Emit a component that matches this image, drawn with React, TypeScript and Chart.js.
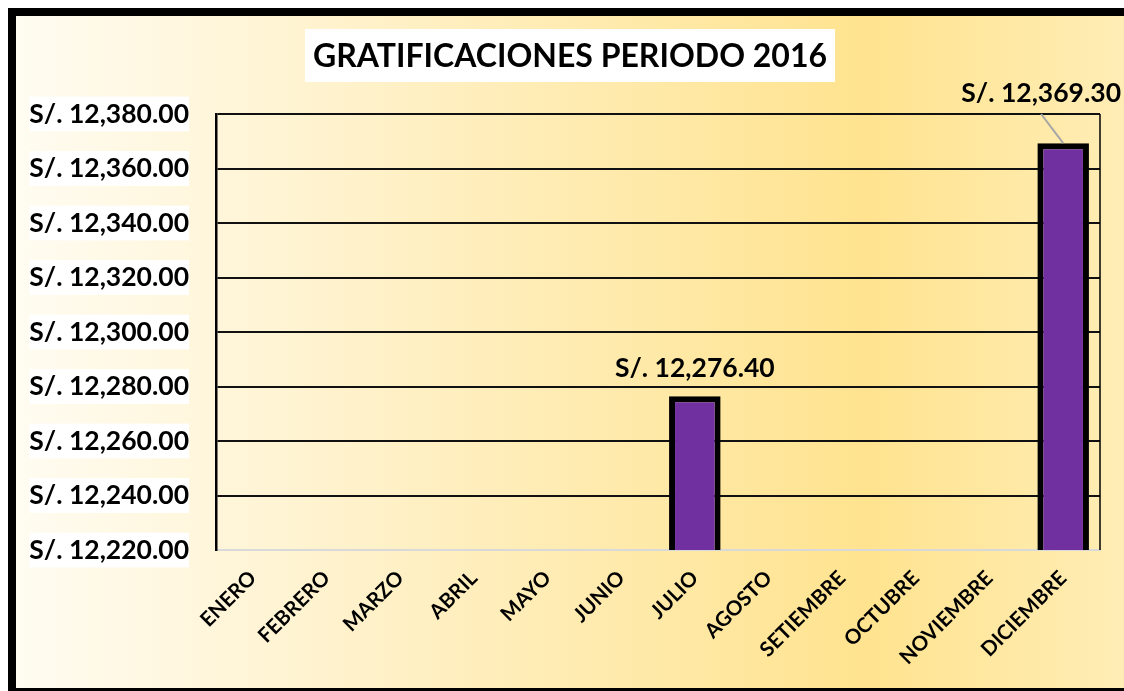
import React, { useEffect, useRef } from "react";
import { Chart, registerables } from "chart.js";

Chart.register(...registerables);

const months = [
  "ENERO", "FEBRERO", "MARZO", "ABRIL", "MAYO", "JUNIO",
  "JULIO", "AGOSTO", "SETIEMBRE", "OCTUBRE", "NOVIEMBRE", "DICIEMBRE",
];
const gratificaciones: (number | null)[] = [
  null, null, null, null, null, null, 12276.4, null, null, null, null, 12369.3,
];
const yMin = 12220;
const yMax = 12380;
const yStep = 20;
const chartTitle = "GRATIFICACIONES PERIODO 2016";

const FONT = "Lato, 'Open Sans', sans-serif";

const fmt = (v: number) =>
  "S/. " + v.toLocaleString("en-US", { minimumFractionDigits: 2, maximumFractionDigits: 2 });

const makeGradient = (ctx: CanvasRenderingContext2D, width: number) => {
  const g = ctx.createLinearGradient(0, 0, width, 0);
  g.addColorStop(0, "#FFFCF2");
  g.addColorStop(0.3, "#FFF2CC");
  g.addColorStop(0.77, "#FFE38F");
  g.addColorStop(1, "#FFEDB5");
  return g;
};

const decorPlugin = {
  id: "decor",
  beforeDraw(chart: any) {
    const { ctx, width, height } = chart;
    ctx.save();
    ctx.fillStyle = makeGradient(ctx, width);
    ctx.fillRect(0, 0, width, height);
    ctx.fillStyle = "#000";
    ctx.fillRect(0, 0, 8, height);
    ctx.fillRect(0, 0, width, 8);
    ctx.fillRect(0, height - 3, width, 3);

    // title box
    ctx.font = `bold 32px ${FONT}`;
    const tw = ctx.measureText(chartTitle).width;
    const cx = width / 2 + 4;
    const bw = tw + 16;
    ctx.fillStyle = "#fff";
    ctx.fillRect(cx - bw / 2, 21, bw, 53);
    ctx.fillStyle = "#000";
    ctx.textAlign = "center";
    ctx.textBaseline = "middle";
    ctx.fillText(chartTitle, cx, 49);
    ctx.restore();
  },
  afterDatasetsDraw(chart: any) {
    const { ctx, chartArea, width, height } = chart;
    ctx.save();
    ctx.fillStyle = makeGradient(ctx, width);
    ctx.fillRect(width - 12, 8, 12, height - 11);

    ctx.strokeStyle = "#000";
    ctx.lineWidth = 1.5;
    ctx.beginPath();
    ctx.moveTo(chartArea.right, chartArea.top);
    ctx.lineTo(chartArea.right, chartArea.bottom);
    ctx.stroke();

    const meta = chart.getDatasetMeta(0);
    ctx.font = `bold 26.5px ${FONT}`;
    ctx.fillStyle = "#000";
    ctx.textAlign = "center";
    ctx.textBaseline = "alphabetic";
    meta.data.forEach((bar: any, i: number) => {
      const v = chart.data.datasets[0].data[i];
      if (v == null) return;
      const text = fmt(v);
      const w = ctx.measureText(text).width;
      let x = bar.x;
      let y = bar.y - 19;
      if (x + w / 2 > width - 3) {
        x = width - 3 - w / 2;
        y = chartArea.top - 12;
        ctx.strokeStyle = "#A6A6A6";
        ctx.lineWidth = 2;
        ctx.beginPath();
        ctx.moveTo(x, chartArea.top);
        ctx.lineTo(bar.x, bar.y);
        ctx.stroke();
      }
      ctx.fillText(text, x, y);
    });
    ctx.restore();
  },
};

export default function App() {
  const ref = useRef<HTMLCanvasElement>(null);
  useEffect(() => {
    const chart = new Chart(ref.current!, {
      type: "bar",
      data: {
        labels: months,
        datasets: [
          {
            data: gratificaciones as any,
            backgroundColor: "#7030A0",
            borderColor: "#000",
            borderWidth: 6,
            categoryPercentage: 1,
            barPercentage: 0.7,
          },
        ],
      },
      options: {
        responsive: false,
        animation: false,
        layout: { padding: { left: 21, top: 106, right: 24, bottom: 0 } },
        plugins: {
          legend: { display: false },
          title: { display: false },
          tooltip: { enabled: false },
        },
        scales: {
          x: {
            grid: { display: false, drawTicks: false },
            border: { display: true, color: "#D9D9D9", width: 2 },
            ticks: {
              color: "#000",
              font: { family: FONT, size: 20.5, weight: "bold" },
              minRotation: 45,
              maxRotation: 45,
              padding: 16,
              autoSkip: false,
            },
            afterFit(scale: any) {
              scale.height = 141;
            },
          },
          y: {
            min: yMin,
            max: yMax,
            grid: {
              color: (c: any) => (c.tick && c.tick.value === yMin ? "rgba(0,0,0,0)" : "#111"),
              lineWidth: 2,
              drawTicks: false,
            },
            border: { display: true, color: "#000", width: 2.5 },
            ticks: {
              stepSize: yStep,
              color: "#000",
              padding: 27,
              font: { family: FONT, size: 26.5, weight: "bold" },
              callback: (v: any) => fmt(Number(v)),
              showLabelBackdrop: true,
              backdropColor: "#fff",
              backdropPadding: { top: 1.5, bottom: 1.5, left: 0, right: 0 },
            } as any,
            afterFit(scale: any) {
              scale.width = 187;
            },
          },
        },
      },
      plugins: [decorPlugin],
    } as any);
    return () => chart.destroy();
  }, []);
  return (
    <canvas
      ref={ref}
      width={1116}
      height={683}
      style={{ display: "block", position: "fixed", left: 8, top: 8 }}
    />
  );
}
